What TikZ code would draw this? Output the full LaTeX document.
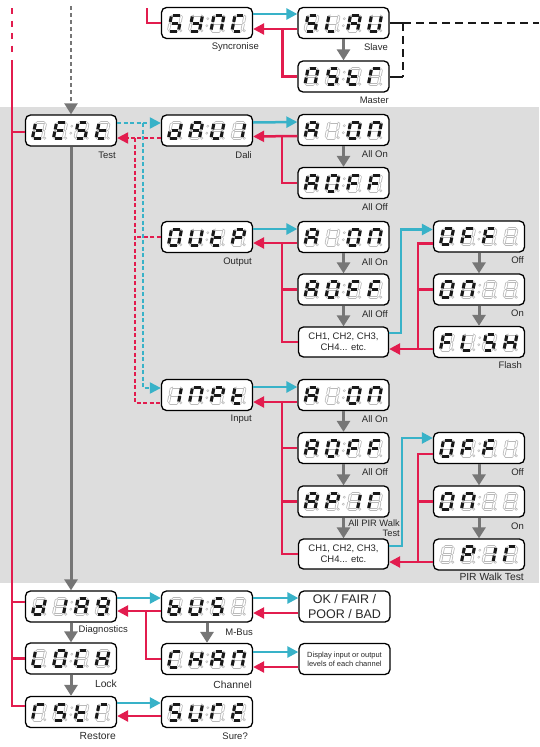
\documentclass[tikz,border=0pt]{standalone}
\usepackage{fontspec}
\setmainfont{Liberation Sans}
\usetikzlibrary{arrows.meta,calc}
\definecolor{cyanC}{RGB}{56,178,200}
\definecolor{redC}{RGB}{226,28,78}
\definecolor{grayC}{RGB}{118,118,118}
\definecolor{bandC}{RGB}{221,221,221}
\definecolor{segOff}{RGB}{185,185,185}
\definecolor{txtC}{RGB}{40,40,40}

\expandafter\def\csname sgp-a\endcsname{(-3.3,8) -- (3.3,8)}
\expandafter\def\csname sgp-b\endcsname{(5,6.5) -- (5,1.1)}
\expandafter\def\csname sgp-c\endcsname{(5,-1.1) -- (5,-6.5)}
\expandafter\def\csname sgp-d\endcsname{(-3.3,-8) -- (3.3,-8)}
\expandafter\def\csname sgp-e\endcsname{(-5,-1.1) -- (-5,-6.5)}
\expandafter\def\csname sgp-f\endcsname{(-5,6.5) -- (-5,1.1)}
\expandafter\def\csname sgp-g\endcsname{(-3.3,0) -- (3.3,0)}
\expandafter\def\csname sgp-x\endcsname{(0,0)}

\def\dgS{a,f,g,c,d}
\def\dgY{b,c,d,f,g}
\def\dgN{a,b,c,e,f}
\def\dgC{a,d,e,f}
\def\dgL{d,e,f}
\def\dgA{a,b,c,e,f,g}
\def\dgU{b,c,d,e,f}
\def\dgT{d,e,f,g}
\def\dgR{a,e,f}
\def\dgE{a,d,e,f,g}
\def\dgD{b,c,d,e,g}
\def\dgI{b,c}
\def\dgO{a,b,c,d,e,f}
\def\dgP{a,b,e,f,g}
\def\dgF{a,e,f,g}
\def\dgH{b,c,e,f,g}
\def\dgG{a,b,c,d,f,g}
\def\dgB{c,d,e,f,g}
\def\dgX{x}

\newcommand\segdigit[2]{%
  \begin{scope}[shift={#1}, x=1pt, y=1pt, xslant=0.2]
    \foreach \s in {a,b,c,d,e,f,g}{\edef\segtmp{\noexpand\draw[segoffA] \csname sgp-\s\endcsname;}\segtmp}
    \foreach \s in {a,b,c,d,e,f,g}{\edef\segtmp{\noexpand\draw[segoffB] \csname sgp-\s\endcsname;}\segtmp}
    \foreach \s in #2{\edef\segtmp{\noexpand\draw[segon] \csname sgp-\s\endcsname;}\segtmp}
    \draw[segdot] (7.4,-7.8) circle (1.1pt);
  \end{scope}}

\newcommand\dbox[6]{%
  \node[dispbox] (#1) at #2 {};
  \segdigit{($(#1.center)+(-32,0)$)}{#3}
  \segdigit{($(#1.center)+(-11,0)$)}{#4}
  \segdigit{($(#1.center)+(10.5,0)$)}{#5}
  \segdigit{($(#1.center)+(31.5,0)$)}{#6}
  \draw[segdot] ($(#1.center)+(0.8,-4.3)$) circle (1.1pt) ($(#1.center)+(-0.2,2.7)$) circle (1.1pt);
}
\newcommand\mylblfont{\fontsize{9.5}{11}\selectfont}

\begin{document}
\begin{tikzpicture}[x=1pt,y=-1pt,
  dispbox/.style={draw=black, line width=1.3pt, fill=white, rounded corners=5pt,
    minimum width=91pt, minimum height=31pt, inner sep=0pt},
  txtbox/.style={dispbox, align=center, text=txtC, minimum width=90pt, minimum height=30pt},
  segoffA/.style={draw=segOff, line width=3.0pt, line cap=round},
  segoffB/.style={draw=white, line width=1.4pt, line cap=round},
  segon/.style={draw=black!90, line width=3.0pt, line cap=butt},
  segdot/.style={draw=segOff, line width=0.5pt},
  cyl/.style={draw=cyanC, line width=2.5pt},
  cya/.style={cyl, -{Triangle[length=11pt,width=11pt]}},
  redl/.style={draw=redC, line width=2.5pt},
  reda/.style={redl, -{Triangle[length=11pt,width=11pt]}},
  grya/.style={draw=grayC, line width=3pt, -{Triangle[length=11pt,width=13pt]}},
  dotpat/.style={dash pattern=on 4pt off 2.5pt, line width=2.2pt},
  blk/.style={draw=black!90, line width=2pt},
  lbl/.style={anchor=east, font=\mylblfont, inner sep=0pt, text=txtC}]
\useasboundingbox (0,0) rectangle (539,747);
\fill[bandC] (0,107) rectangle (539,583);

% ---------- boxes ----------
\dbox{sync}{(207,23)}{\dgS}{\dgY}{\dgN}{\dgC}
\dbox{slav}{(343.5,23)}{\dgS}{\dgL}{\dgA}{\dgU}
\dbox{mstr}{(343.5,76.5)}{\dgN}{\dgS}{\dgT}{\dgR}
\dbox{test}{(71,130.5)}{\dgT}{\dgE}{\dgS}{\dgT}
\dbox{dali}{(207,130.5)}{\dgD}{\dgA}{\dgU}{\dgI}
\dbox{aon1}{(343.5,130)}{\dgA}{\dgX}{\dgO}{\dgN}
\dbox{aoff1}{(343.5,183)}{\dgA}{\dgO}{\dgF}{\dgF}
\dbox{outp}{(207,237)}{\dgO}{\dgU}{\dgT}{\dgP}
\dbox{aon2}{(343.5,237)}{\dgA}{\dgX}{\dgO}{\dgN}
\dbox{aoff2}{(343.5,289.5)}{\dgA}{\dgO}{\dgF}{\dgF}
\node[txtbox, font=\fontsize{9.5}{11}\selectfont] (ch1) at (343.5,342) {CH1, CH2, CH3,\\CH4... etc.};
\dbox{off2}{(479,236.5)}{\dgO}{\dgF}{\dgF}{\dgX}
\dbox{on2}{(479,289.5)}{\dgO}{\dgN}{\dgX}{\dgX}
\dbox{flsh}{(479,342)}{\dgF}{\dgL}{\dgS}{\dgH}
\dbox{inpt}{(207,395)}{\dgI}{\dgN}{\dgP}{\dgT}
\dbox{aon3}{(343.5,395)}{\dgA}{\dgX}{\dgO}{\dgN}
\dbox{aoff3}{(343.5,448)}{\dgA}{\dgO}{\dgF}{\dgF}
\dbox{apir}{(343.5,501.5)}{\dgA}{\dgP}{\dgI}{\dgR}
\node[txtbox, font=\fontsize{9.5}{11}\selectfont] (ch2) at (343.5,554) {CH1, CH2, CH3,\\CH4... etc.};
\dbox{off3}{(479,448)}{\dgO}{\dgF}{\dgF}{\dgX}
\dbox{on3}{(479,501.5)}{\dgO}{\dgN}{\dgX}{\dgX}
\dbox{pir}{(479,554.5)}{\dgX}{\dgP}{\dgI}{\dgR}
\dbox{diag}{(71,606.5)}{\dgD}{\dgI}{\dgA}{\dgG}
\dbox{bus}{(207,606.5)}{\dgB}{\dgU}{\dgS}{\dgX}
\node[txtbox, minimum width=91pt, minimum height=31pt, font=\fontsize{12.5}{14.5}\selectfont] (okb) at (344.5,606.5) {OK / FAIR /\\POOR / BAD};
\dbox{lock}{(71,658.5)}{\dgL}{\dgO}{\dgC}{\dgH}
\dbox{chan}{(207,659)}{\dgC}{\dgH}{\dgA}{\dgN}
\node[txtbox, minimum width=91pt, minimum height=31pt, font=\fontsize{7.5}{8.7}\selectfont] (disp) at (344.5,659) {Display input or output\\levels of each channel};
\dbox{rstr}{(71,712)}{\dgR}{\dgS}{\dgT}{\dgR}
\dbox{sure}{(207,712)}{\dgS}{\dgU}{\dgR}{\dgE}

% ---------- labels ----------
\node[lbl] (lb1) at (259,47) {Syncronise};
\node[lbl] (lb2) at (388,47.5) {Slave};
\node[lbl] (lb3) at (389,100) {Master};
\node[lbl] (lb4) at (116,155) {Test};
\node[lbl] (lb5) at (252,155) {Dali};
\node[lbl] (lb6) at (388,154) {All On};
\node[lbl] (lb7) at (388,207) {All Off};
\node[lbl] (lb8) at (252,262) {Output};
\node[lbl] (lb9) at (388,262) {All On};
\node[lbl] (lb10) at (388,314) {All Off};
\node[lbl] (lb11) at (524,260) {Off};
\node[lbl] (lb12) at (524,313) {On};
\node[lbl] (lb13) at (522,365) {Flash};
\node[lbl] (lb14) at (252,419) {Input};
\node[lbl] (lb15) at (388,419) {All On};
\node[lbl] (lb16) at (388,472) {All Off};
\node[lbl, align=right, font=\fontsize{9.3}{10.2}\selectfont] (lb17) at (400,528) {All PIR Walk\\Test};
\node[lbl] (lb18) at (524,472) {Off};
\node[lbl] (lb19) at (524,526) {On};
\node[lbl, font=\fontsize{10.3}{12}\selectfont] (lb20) at (524,577) {PIR Walk Test};
\node[lbl] (lb21) at (128,630) {Diagnostics};
\node[lbl] (lb22) at (253,632) {M-Bus};
\node[lbl, font=\fontsize{10.3}{12}\selectfont] (lb23) at (117,684) {Lock};
\node[lbl, font=\fontsize{10.3}{12}\selectfont] (lb24) at (252,685) {Channel};
\node[lbl, font=\fontsize{10.3}{12}\selectfont] (lb25) at (116,736) {Restore};
\node[lbl] (lb26) at (248,736) {Sure?};

% ---------- top section ----------
\coordinate (rtop) at (147,8);
\draw[redl] (rtop) |- (sync.west);
\draw[cya] ([yshift=9pt]sync.east) -- ([yshift=9pt]slav.west);
\draw[reda] ([yshift=-6pt]slav.west) -- ([yshift=-6pt]sync.east);
\draw[redl] (mstr.west) -| ([xshift=-15pt,yshift=-6pt]slav.west);
\draw[grya] (slav) -- (mstr);
\coordinate (bj1) at (403,23);
\coordinate (bj2) at (403,76.5);
\coordinate (bend) at (539,23);
\draw[blk] (slav.east) -- (bj1);
\draw[blk, dash pattern=on 8pt off 5pt] (bj1) -- (bend);
\draw[blk, dash pattern=on 8pt off 5pt] (bj1) -- (bj2);
\draw[blk] (mstr.east) -- (bj2);

% ---------- left red spine ----------
\coordinate (ltop) at (12,8);
\coordinate (lmid) at (12,57);
\coordinate (lsol) at (12,60);
\coordinate (lbot) at (12,706);
\draw[redl, dash pattern=on 6pt off 6.5pt] (ltop) -- (lmid);
\draw[redl] (lsol) -- (lbot);
\draw[redl] ([yshift=-1.5pt]test.west) -- ++(-14,0);
\draw[redl] ([yshift=4.5pt]diag.west) -- ++(-14,0);
\draw[redl] (lock.west) -- ++(-14,0);
\draw[redl] ([yshift=6pt]rstr.west) -- ++(-14,0);

% ---------- gray trunk ----------
\coordinate (gtop) at (71,6);
\draw[grya, dash pattern=on 4pt off 3pt, line width=2.4pt] (gtop) -- (test.north);
\draw[grya] (test) -- (diag);

% ---------- dotted links from Test ----------
\coordinate (cv) at (143,123);
\coordinate (rv) at (135,138);
\draw[cya, dotpat] ([yshift=7.5pt]test.east) -- ([yshift=7.5pt]dali.west);
\draw[cya, dotpat] (cv) |- ([yshift=7pt]inpt.west);
\draw[reda, dotpat] ([yshift=-7.5pt]dali.west) -- ([yshift=-7.5pt]test.east);
\draw[redl, dotpat] (rv) |- ([yshift=-8pt]inpt.west);
\draw[redl, dotpat] (outp.west) -- (outp.west -| rv);

% ---------- Dali group ----------
\draw[cya] ([yshift=8pt]dali.east) -- ([yshift=8pt]aon1.west);
\draw[reda] ([yshift=-6pt]aon1.west) -- ([yshift=-6pt]dali.east);
\draw[redl] (aoff1.west) -| ([xshift=-15.5pt,yshift=-6pt]aon1.west);
\draw[grya] (aon1) -- (aoff1);

% ---------- Output group ----------
\draw[cya] ([yshift=8pt]outp.east) -- ([yshift=8pt]aon2.west);
\draw[reda] ([yshift=-6pt]aon2.west) -- ([yshift=-6pt]outp.east);
\draw[redl] (ch1.west) -| ([xshift=-15.5pt,yshift=-6pt]aon2.west);
\draw[redl] (aoff2.west) -- ++(-15.5,0);
\draw[grya] (aon2) -- (aoff2);
\draw[grya] (aoff2) -- (ch1);
\draw[cya] ([yshift=9pt]ch1.east) -- ++(12,0) |- ([yshift=7pt]off2.west);
\draw[reda] ([yshift=-7pt]off2.west) -- ++(-15,0) |- ([yshift=-7pt]ch1.east);
\draw[redl] ([yshift=-7pt]flsh.west) -- ++(-15,0);
\draw[redl] (on2.west) -- ++(-15,0);
\draw[grya] (off2) -- (on2);
\draw[grya] (on2) -- (flsh);

% ---------- Input group ----------
\draw[cya] ([yshift=8pt]inpt.east) -- ([yshift=8pt]aon3.west);
\draw[reda] ([yshift=-7pt]aon3.west) -- ([yshift=-7pt]inpt.east);
\draw[redl] (ch2.west) -| ([xshift=-15.5pt,yshift=-7pt]aon3.west);
\draw[redl] (aoff3.west) -- ++(-15.5,0);
\draw[redl] (apir.west) -- ++(-15.5,0);
\draw[grya] (aon3) -- (aoff3);
\draw[grya] (aoff3) -- (apir);
\draw[grya] (apir) -- (ch2);
\draw[cya] ([yshift=8pt]ch2.east) -- ++(13,0) |- ([yshift=10pt]off3.west);
\draw[reda] ([yshift=-6pt]off3.west) -- ++(-15,0) |- ([yshift=-8pt]ch2.east);
\draw[redl] ([yshift=-7.5pt]pir.west) -- ++(-15,0);
\draw[redl] (on3.west) -- ++(-15,0);
\draw[grya] (off3) -- (on3);
\draw[grya] (on3) -- (pir);

% ---------- bottom section ----------
\draw[cya] ([yshift=8.5pt]diag.east) -- ([yshift=8.5pt]bus.west);
\draw[reda] ([yshift=-4.5pt]bus.west) -- ([yshift=-4.5pt]diag.east);
\draw[redl] (chan.west) -| ([xshift=-15pt,yshift=-4.5pt]bus.west);
\draw[grya] (bus) -- (chan);
\draw[grya] (diag) -- (lock);
\draw[grya] (lock) -- (rstr);
\draw[cya] ([yshift=8.5pt]bus.east) -- ([yshift=8.5pt]okb.west);
\draw[reda] ([yshift=-6.5pt]okb.west) -- ([yshift=-6.5pt]bus.east);
\draw[cya] ([yshift=7pt]chan.east) -- ([yshift=7pt]disp.west);
\draw[reda] ([yshift=-8pt]disp.west) -- ([yshift=-8pt]chan.east);
\draw[cya] ([yshift=9pt]rstr.east) -- ([yshift=9pt]sure.west);
\draw[reda] ([yshift=-4pt]sure.west) -- ([yshift=-4pt]rstr.east);
\end{tikzpicture}
\end{document}
